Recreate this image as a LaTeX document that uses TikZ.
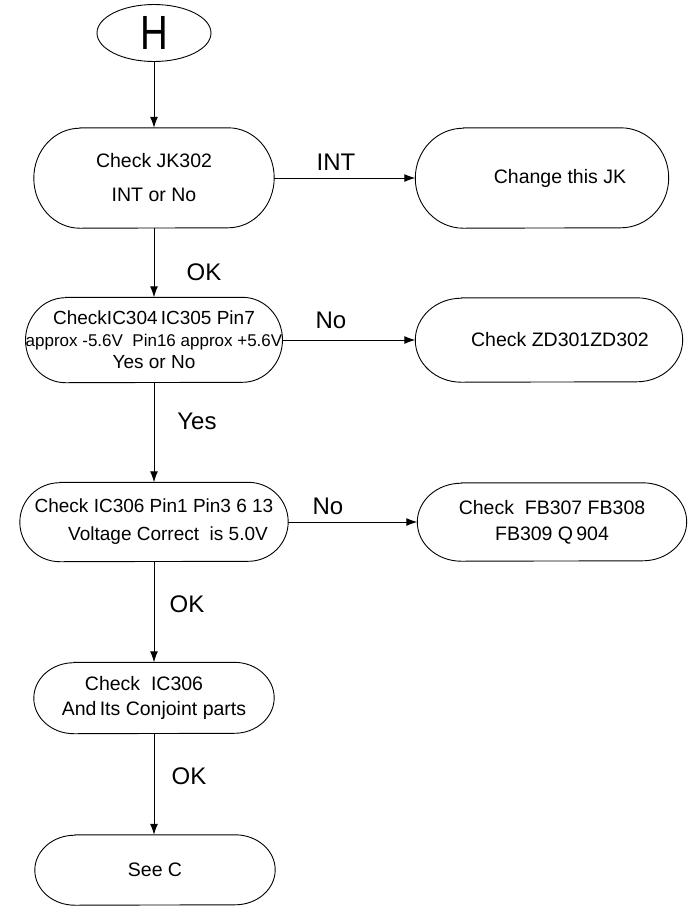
\documentclass[tikz,border=0pt]{standalone}
\usepackage{fontspec}
\usepackage{graphicx}
\setmainfont{Liberation Sans}
\usetikzlibrary{shapes.geometric,arrows.meta}
\tikzset{
  box/.style={rectangle, draw=none, inner sep=0pt, align=center,
    font=\fontsize{19.5}{24}\selectfont},
  outline/.style={draw=black, line width=0.9pt},
  lbl/.style={inner sep=0pt, font=\fontsize{24}{24}\selectfont},
  conn/.style={draw=black, line width=1pt, -{Latex[length=11pt,width=8pt]}},
}
% outline of a stadium-shaped node: name, end x radius, half height
\newcommand{\stadout}[3]{%
  \draw[outline] ([xshift=#2pt]#1.north west) -- ([xshift=-#2pt]#1.north east)
    arc[start angle=90, end angle=-90, x radius=#2pt, y radius=#3pt]
    -- ([xshift=#2pt]#1.south west)
    arc[start angle=270, end angle=90, x radius=#2pt, y radius=#3pt] -- cycle;}
\begin{document}
\begin{tikzpicture}[x=1pt, y=-1pt]
\useasboundingbox (0,0) rectangle (700,906);

\node[ellipse, draw, line width=0.9pt, minimum width=114pt, minimum height=57pt, inner sep=0pt,
      font=\fontsize{48}{48}\selectfont] (h) at (154,33) {\scalebox{0.8}[1]{H}};

\node[box, minimum width=240pt, minimum height=100pt, font=\fontsize{19.5}{34}\selectfont]
  (jk) at (154,178) {Check JK302\\INT or No};
\stadout{jk}{46}{50}

\node[box, minimum width=253pt, minimum height=100pt] (chg) at (542,178)
  {\hspace*{36pt}Change this JK};
\stadout{chg}{48}{50}

\node[box, minimum width=256pt, minimum height=85pt, font=\fontsize{19}{22}\selectfont]
  (ic304) at (154,340)
  {CheckIC304\,IC305 Pin7\\{\fontsize{17}{22}\selectfont approx -5.6V\ \ Pin16 approx +5.6V}\\Yes or No};
\stadout{ic304}{40}{42.5}

\node[box, minimum width=267pt, minimum height=84pt] (zd) at (549,340)
  {\hspace*{22pt}Check ZD301ZD302};
\stadout{zd}{46}{42}

\node[box, minimum width=268pt, minimum height=79pt, font=\fontsize{19}{28}\selectfont]
  (ic306) at (154,522)
  {Check IC306 Pin1 Pin3 6 13\\\hspace*{28pt}Voltage Correct\ \ is 5.0V};
\stadout{ic306}{40}{39.5}

\node[box, minimum width=269pt, minimum height=78pt, font=\fontsize{19.5}{26}\selectfont]
  (fb) at (552,522) {Check\ \ FB307 FB308\\FB309 Q\,904};
\stadout{fb}{44}{39}

\node[box, minimum width=240pt, minimum height=71pt, font=\fontsize{19.5}{25}\selectfont]
  (ic306b) at (154,698) {Check\ \ IC306\hspace*{20pt}\\And\,Its Conjoint parts};
\stadout{ic306b}{40}{35.5}

\node[box, minimum width=240pt, minimum height=70pt] (seec) at (155,870) {See C};
\stadout{seec}{40}{35}

% connectors
\draw[conn] (h.south) -- (h.south |- jk.north);
\draw[conn] (jk.east) -- (chg.west);
\draw[conn] (jk.south) -- (jk.south |- ic304.north);
\draw[conn] (ic304.east) -- (zd.west);
\draw[conn] (ic304.south) -- (ic304.south |- ic306.north);
\draw[conn] (ic306.east) -- (fb.west);
\draw[conn] (ic306.south) -- (ic306.south |- ic306b.north);
\draw[conn] (ic306b.south) -- (ic306b.south |- seec.north);

% labels
\node[lbl] (lint) at (336,162) {INT};
\node[lbl] (lok1) at (204,272) {OK};
\node[lbl] (lno1) at (331,320) {No};
\node[lbl] (lyes) at (197,421) {Yes};
\node[lbl] (lno2) at (328,506) {No};
\node[lbl] (lok2) at (187,604) {OK};
\node[lbl] (lok3) at (189,776) {OK};
\end{tikzpicture}
\end{document}
